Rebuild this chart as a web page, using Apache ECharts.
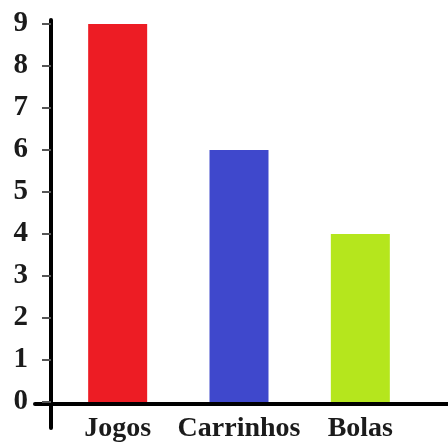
<!DOCTYPE html>
<html>
<head>
<meta charset="utf-8">
<script src="https://cdn.jsdelivr.net/npm/echarts@6/dist/echarts.min.js"></script>
<style>
  html, body { margin: 0; padding: 0; background: #ffffff; }
  #chart { width: 448px; height: 443px; }
</style>
</head>
<body>
<div id="chart"></div>
<script>
// Toy counts per category
const categories = ['Jogos', 'Carrinhos', 'Bolas'];
const values = [9, 6, 4];
const barColors = ['#ED1C24', '#3F48CC', '#B5E61D'];
const yTicks = [0, 1, 2, 3, 4, 5, 6, 7, 8, 9];

const labelFont = {
  fontFamily: '"Liberation Serif", "DejaVu Serif", serif',
  fontWeight: 'bold',
  color: '#1b1b1b'
};

const chart = echarts.init(document.getElementById('chart'), null, { renderer: 'canvas' });

chart.setOption({
  animation: false,
  backgroundColor: '#ffffff',
  grid: [
    // bars
    { left: 57, right: 27, top: 24, bottom: 39 },
    // long horizontal baseline
    { left: 35, right: 0, top: 24, bottom: 39 },
    // tall vertical axis line
    { left: 51, right: 0, top: 20, bottom: 15 }
  ],
  xAxis: [
    {
      gridIndex: 0,
      type: 'category',
      data: categories,
      axisLine: { show: false },
      axisTick: { show: false },
      axisLabel: Object.assign({ fontSize: 28, margin: 13, interval: 0 }, labelFont)
    },
    {
      gridIndex: 1,
      type: 'value',
      min: 0, max: 1,
      axisLine: { show: true, lineStyle: { color: '#000000', width: 4 } },
      axisTick: { show: false },
      axisLabel: { show: false },
      splitLine: { show: false }
    },
    {
      gridIndex: 2,
      type: 'value',
      min: 0, max: 1,
      axisLine: { show: false },
      axisTick: { show: false },
      axisLabel: { show: false },
      splitLine: { show: false }
    }
  ],
  yAxis: [
    {
      gridIndex: 0,
      type: 'value',
      min: yTicks[0],
      max: yTicks[yTicks.length - 1],
      interval: 1,
      offset: 6,
      axisLine: { show: false },
      axisTick: { show: true, length: 9, lineStyle: { color: '#555555', width: 2 } },
      axisLabel: Object.assign({ fontSize: 29, margin: 23 }, labelFont),
      splitLine: { show: false }
    },
    {
      gridIndex: 1,
      type: 'value',
      min: 0, max: 1,
      axisLine: { show: false },
      axisTick: { show: false },
      axisLabel: { show: false },
      splitLine: { show: false }
    },
    {
      gridIndex: 2,
      type: 'value',
      min: 0, max: 1,
      axisLine: { show: true, lineStyle: { color: '#000000', width: 4 } },
      axisTick: { show: false },
      axisLabel: { show: false },
      splitLine: { show: false }
    }
  ],
  series: [
    {
      type: 'bar',
      xAxisIndex: 0,
      yAxisIndex: 0,
      barWidth: 59,
      data: values.map((v, i) => ({ value: v, itemStyle: { color: barColors[i] } }))
    }
  ]
});
</script>
</body>
</html>
